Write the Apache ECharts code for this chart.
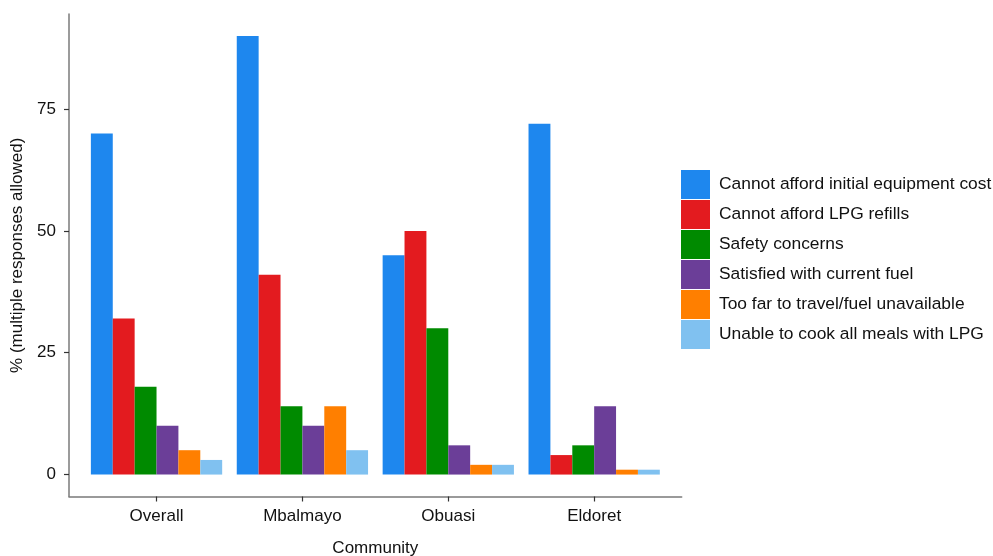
<!DOCTYPE html>
<html>
<head>
<meta charset="utf-8">
<script src="https://cdn.jsdelivr.net/npm/echarts@6/dist/echarts.min.js"></script>
<style>
  html, body { margin: 0; padding: 0; background: #fff; }
  #chart { width: 993px; height: 556px; }
</style>
</head>
<body>
<div id="chart"></div>
<script>
// Reasons for not using LPG, by community (% of respondents, multiple responses allowed)
const communities = ['Overall', 'Mbalmayo', 'Obuasi', 'Eldoret'];
const reasons = [
  'Cannot afford initial equipment cost',
  'Cannot afford LPG refills',
  'Safety concerns',
  'Satisfied with current fuel',
  'Too far to travel/fuel unavailable',
  'Unable to cook all meals with LPG'
];
const equipmentCost = [70, 90, 45, 72];
const refillCost    = [32, 41, 50, 4];
const safety        = [18, 14, 30, 6];
const satisfied     = [10, 10, 6, 14];
const tooFar        = [5, 14, 2, 1];
const cookAllMeals  = [3, 5, 2, 1];
const yTicks = [0, 25, 50, 75];

const colors = ['#1E87EE', '#E31B1F', '#008A00', '#6B3E98', '#FF7F00', '#80C1F0'];
const seriesValues = [equipmentCost, refillCost, safety, satisfied, tooFar, cookAllMeals];

// y range padded 5% each side of 0..90
const yMin = -4.5, yMax = 94.5;
const FONT = '"Liberation Sans", Arial, Helvetica, sans-serif';

// outer frame spans 0.4..4.6 in category units; bars sit in an inner grid spanning 0.5..4.5
const outerLeft = 69, outerRight = 993 - 681.7, gridTop = 14, gridBottom = 556 - 496.5;
const outerWidth = 993 - outerLeft - outerRight;
const unit = outerWidth / 4.2;
const innerLeft = outerLeft + 0.1 * unit;
const innerRight = outerRight + 0.1 * unit;

const chart = echarts.init(document.getElementById('chart'), null, { renderer: 'canvas' });

const option = {
  animation: false,
  backgroundColor: '#ffffff',
  textStyle: { fontFamily: FONT },
  grid: [
    { left: outerLeft, right: outerRight, top: gridTop, bottom: gridBottom, outerBoundsMode: 'none', containLabel: false },
    { left: innerLeft, right: innerRight, top: gridTop, bottom: gridBottom, outerBoundsMode: 'none', containLabel: false }
  ],
  xAxis: [
    {
      gridIndex: 0, type: 'value', min: 0.4, max: 4.6,
      axisLine: { show: true, onZero: false, lineStyle: { color: '#7a7a7a', width: 1.5 } },
      axisTick: { show: false }, axisLabel: { show: false }, splitLine: { show: false }
    },
    {
      gridIndex: 1, type: 'category', data: communities,
      axisLine: { show: false, onZero: false },
      axisTick: { show: true, alignWithLabel: true, length: 5, lineStyle: { color: '#333', width: 1.2 } },
      axisLabel: { color: '#111', fontSize: 17, margin: 11, fontFamily: FONT },
      name: 'Community', nameLocation: 'middle', nameGap: 43,
      nameTextStyle: { color: '#111', fontSize: 17, fontFamily: FONT }
    }
  ],
  yAxis: [
    {
      gridIndex: 0, type: 'value', min: yMin, max: yMax,
      axisLine: { show: true, onZero: false, lineStyle: { color: '#7a7a7a', width: 1.5 } },
      axisTick: { show: true, length: 5, customValues: yTicks, lineStyle: { color: '#333', width: 1.2 } },
      axisLabel: { show: true, customValues: yTicks, color: '#111', fontSize: 17, margin: 13, fontFamily: FONT },
      splitLine: { show: false },
      name: '% (multiple responses allowed)', nameLocation: 'middle', nameGap: 38,
      nameTextStyle: { color: '#111', fontSize: 17, fontFamily: FONT }
    },
    {
      gridIndex: 1, type: 'value', min: yMin, max: yMax, show: false
    }
  ],
  legend: {
    orient: 'vertical', left: 681, top: 170, padding: 0,
    itemWidth: 29, itemHeight: 29, itemGap: 1,
    icon: 'rect',
    textStyle: { color: '#111', fontSize: 17.4, fontFamily: FONT, padding: [0, 0, 0, 4] },
    data: reasons
  },
  series: reasons.map((name, i) => ({
    name: name,
    type: 'bar',
    xAxisIndex: 1, yAxisIndex: 1,
    data: seriesValues[i],
    barGap: '0%',
    barCategoryGap: '10%',
    itemStyle: { color: colors[i] }
  }))
};

chart.setOption(option);
</script>
</body>
</html>
